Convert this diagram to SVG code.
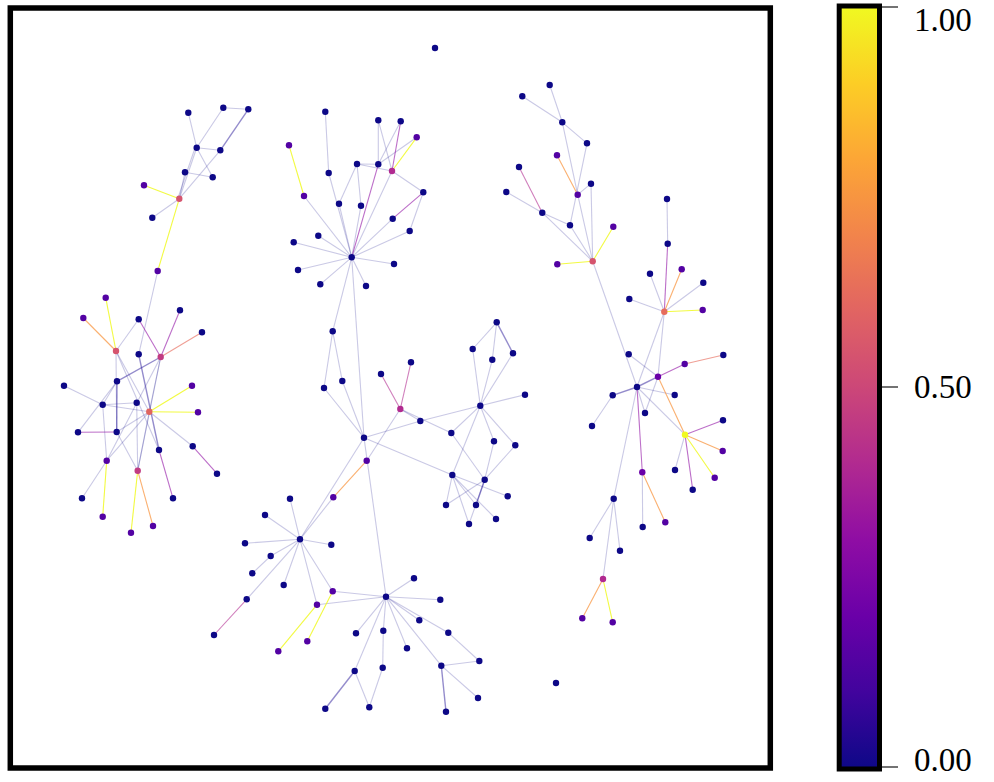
<svg xmlns="http://www.w3.org/2000/svg" width="994" height="782" viewBox="0 0 994 782">
<defs>
<linearGradient id="plasma" x1="0" y1="0" x2="0" y2="1">
<stop offset="0" stop-color="#f0f921"/><stop offset="0.1" stop-color="#fcce25"/><stop offset="0.2" stop-color="#fca636"/><stop offset="0.3" stop-color="#f2844b"/><stop offset="0.4" stop-color="#e16462"/><stop offset="0.5" stop-color="#cc4778"/><stop offset="0.6" stop-color="#b12a90"/><stop offset="0.7" stop-color="#8f0da4"/><stop offset="0.8" stop-color="#6a00a8"/><stop offset="0.9" stop-color="#41049d"/><stop offset="1" stop-color="#0d0887"/>
</linearGradient>
<style>
line{stroke-width:1.1;fill:none}
.l{stroke:#0d0887;stroke-opacity:0.22}
.b{stroke:#2a1a9a;stroke-opacity:0.5;stroke-width:1.4}
.p{stroke:#8f0da4;stroke-opacity:0.6}
.m{stroke:#b12a90;stroke-opacity:0.6}
.s{stroke:#e66c5c;stroke-opacity:0.65}
.o{stroke:#f89540;stroke-opacity:0.75}
.y{stroke:#f0f921;stroke-opacity:0.85}
circle{r:3.2}
.n0{fill:#0d0887}.n1{fill:#5302a3}.np{fill:#6a00a8}.nm{fill:#b12a90}.nm2{fill:#c13b82}.nr{fill:#d5546e}.nr2{fill:#e0645f}.no{fill:#e66c5c}.ny{fill:#f0f921}
.t{font-family:"Liberation Serif","Times New Roman",serif;font-size:33px;fill:#000}
</style>
</defs>
<rect width="994" height="782" fill="#fff"/>
<g id="edges">
<!-- A -->
<line class="l" x1="188.3" y1="112.7" x2="196.7" y2="147.7"/>
<line class="l" x1="223.3" y1="107.7" x2="196.7" y2="147.7"/>
<line class="l" x1="223.3" y1="107.7" x2="248.3" y2="109.3"/>
<line class="b" x1="248.3" y1="109.3" x2="220.3" y2="150.3"/>
<line class="l" x1="196.7" y1="147.7" x2="220.3" y2="150.3"/>
<line class="l" x1="196.7" y1="147.7" x2="212.7" y2="177.3"/>
<line class="l" x1="196.7" y1="147.7" x2="179.3" y2="198.7"/>
<line class="l" x1="195" y1="148" x2="178" y2="198"/>
<line class="l" x1="185" y1="172.3" x2="212.7" y2="177.3"/>
<line class="l" x1="185" y1="172.3" x2="179.3" y2="198.7"/>
<line class="l" x1="220.3" y1="150.3" x2="179.3" y2="198.7"/>
<line class="l" x1="152.3" y1="217.7" x2="179.3" y2="198.7"/>
<line class="y" x1="144" y1="185.3" x2="179.3" y2="198.7"/>
<line class="y" x1="179.3" y1="198.7" x2="157.7" y2="271"/>
<line class="l" x1="157.7" y1="271" x2="138.7" y2="354.3"/>
<!-- B -->
<line class="l" x1="138.7" y1="319.3" x2="116" y2="351"/>
<line class="l" x1="116" y1="351" x2="116.7" y2="432"/>
<line class="l" x1="116" y1="351" x2="149.3" y2="411.7"/>
<line class="l" x1="116" y1="351" x2="159" y2="450"/>
<line class="l" x1="64" y1="385.7" x2="102.7" y2="404.7"/>
<line class="l" x1="102.7" y1="404.7" x2="117" y2="381.3"/>
<line class="l" x1="102.7" y1="404.7" x2="149.3" y2="411.7"/>
<line class="l" x1="102.7" y1="404.7" x2="106.7" y2="460.7"/>
<line class="l" x1="78" y1="432.3" x2="117" y2="381.3"/>
<line class="l" x1="149.3" y1="411.7" x2="192.7" y2="446.3"/>
<line class="l" x1="149.3" y1="411.7" x2="116.7" y2="432"/>
<line class="l" x1="149.3" y1="411.7" x2="106.7" y2="460.7"/>
<line class="l" x1="149.3" y1="411.7" x2="137.7" y2="470.7"/>
<line class="l" x1="149.3" y1="411.7" x2="160.7" y2="357"/>
<line class="l" x1="160.7" y1="357" x2="137.7" y2="470.7"/>
<line class="l" x1="136.7" y1="402.7" x2="137.7" y2="470.7"/>
<line class="l" x1="102.7" y1="404.7" x2="136.7" y2="402.7"/>
<line class="l" x1="116.7" y1="432" x2="137.7" y2="470.7"/>
<line class="l" x1="106.7" y1="460.7" x2="82" y2="498.3"/>
<line class="l" x1="106.7" y1="460.7" x2="160.7" y2="357"/>
<line class="b" x1="160.7" y1="357" x2="117" y2="381.3"/>
<line class="b" x1="117" y1="381.3" x2="116.7" y2="432"/>
<line class="b" x1="138.7" y1="354.3" x2="159" y2="450"/>
<line class="p" x1="138.7" y1="319.3" x2="160.7" y2="357"/>
<line class="p" x1="180" y1="310.3" x2="160.7" y2="357"/>
<line class="p" x1="78" y1="432.3" x2="116.7" y2="432"/>
<line class="p" x1="159" y1="450" x2="173" y2="498.3"/>
<line class="p" x1="192.7" y1="446.3" x2="217" y2="473.7"/>
<line class="s" x1="202" y1="332.3" x2="160.7" y2="357"/>
<line class="y" x1="105.7" y1="297.7" x2="116" y2="351"/>
<line class="o" x1="83.3" y1="318" x2="116" y2="351"/>
<line class="y" x1="192" y1="385.7" x2="149.3" y2="411.7"/>
<line class="y" x1="198" y1="412.3" x2="149.3" y2="411.7"/>
<line class="y" x1="106.7" y1="460.7" x2="102.7" y2="516.7"/>
<line class="y" x1="137.7" y1="470.7" x2="131" y2="532.7"/>
<line class="o" x1="137.7" y1="470.7" x2="153" y2="526"/>
<!-- C -->
<line class="l" x1="325.3" y1="111.7" x2="328.7" y2="173"/>
<line class="l" x1="328.7" y1="173" x2="351.7" y2="257.3"/>
<line class="l" x1="378.3" y1="120.3" x2="378.3" y2="164.3"/>
<line class="l" x1="378.3" y1="120.3" x2="392" y2="171"/>
<line class="l" x1="400.7" y1="121.3" x2="378.3" y2="164.3"/>
<line class="l" x1="416.7" y1="137.3" x2="378.3" y2="164.3"/>
<line class="l" x1="304" y1="196" x2="351.7" y2="257.3"/>
<line class="l" x1="357" y1="164" x2="378.3" y2="164.3"/>
<line class="l" x1="357" y1="164" x2="392" y2="171"/>
<line class="l" x1="357" y1="164" x2="339" y2="203.7"/>
<line class="l" x1="357" y1="164" x2="361" y2="205.7"/>
<line class="l" x1="392" y1="171" x2="351.7" y2="257.3"/>
<line class="l" x1="392" y1="171" x2="423.3" y2="192.3"/>
<line class="l" x1="423.3" y1="192.3" x2="409.7" y2="231"/>
<line class="l" x1="392.7" y1="218.7" x2="351.7" y2="257.3"/>
<line class="l" x1="409.7" y1="231" x2="351.7" y2="257.3"/>
<line class="l" x1="339" y1="203.7" x2="351.7" y2="257.3"/>
<line class="l" x1="361" y1="205.7" x2="351.7" y2="257.3"/>
<line class="l" x1="318.3" y1="235.7" x2="351.7" y2="257.3"/>
<line class="l" x1="293.7" y1="242.3" x2="351.7" y2="257.3"/>
<line class="l" x1="394" y1="264" x2="351.7" y2="257.3"/>
<line class="l" x1="298" y1="270" x2="351.7" y2="257.3"/>
<line class="l" x1="320.3" y1="284.3" x2="351.7" y2="257.3"/>
<line class="l" x1="366" y1="286" x2="351.7" y2="257.3"/>
<line class="p" x1="400.7" y1="121.3" x2="392" y2="171"/>
<line class="p" x1="378.3" y1="164.3" x2="351.7" y2="257.3"/>
<line class="p" x1="423.3" y1="192.3" x2="392.7" y2="218.7"/>
<line class="y" x1="416.7" y1="137.3" x2="392" y2="171"/>
<line class="y" x1="289" y1="145.3" x2="304" y2="196"/>
<!-- D -->
<line class="l" x1="351.7" y1="257.3" x2="332.7" y2="331.3"/>
<line class="l" x1="351.7" y1="257.3" x2="364" y2="437.7"/>
<line class="l" x1="332.7" y1="331.3" x2="324" y2="388"/>
<line class="l" x1="332.7" y1="331.3" x2="342.3" y2="381"/>
<line class="l" x1="324" y1="388" x2="364" y2="437.7"/>
<line class="l" x1="342.3" y1="381" x2="364" y2="437.7"/>
<line class="l" x1="400.3" y1="409" x2="420.3" y2="421"/>
<line class="l" x1="400.3" y1="409" x2="451.3" y2="433"/>
<line class="l" x1="364" y1="437.7" x2="420.3" y2="421"/>
<line class="l" x1="420.3" y1="421" x2="480.3" y2="405.7"/>
<line class="l" x1="364" y1="437.7" x2="300" y2="539.3"/>
<line class="l" x1="400.3" y1="409" x2="366.7" y2="460.7"/>
<line class="l" x1="364" y1="437.7" x2="386" y2="596.7"/>
<line class="l" x1="364" y1="437.7" x2="452.3" y2="475"/>
<line class="l" x1="300" y1="539.3" x2="333.3" y2="497.3"/>
<line class="m" x1="381" y1="374" x2="400.3" y2="409"/>
<line class="m" x1="411" y1="362.3" x2="400.3" y2="409"/>
<line class="o" x1="333.3" y1="497.3" x2="366.7" y2="460.7"/>
<!-- E -->
<line class="l" x1="496.7" y1="322.3" x2="472.7" y2="349"/>
<line class="l" x1="496.7" y1="322.3" x2="492.3" y2="359.7"/>
<line class="l" x1="472.7" y1="349" x2="480.3" y2="405.7"/>
<line class="l" x1="492.3" y1="359.7" x2="480.3" y2="405.7"/>
<line class="l" x1="513" y1="353.3" x2="480.3" y2="405.7"/>
<line class="l" x1="480.3" y1="405.7" x2="525" y2="394.7"/>
<line class="l" x1="480.3" y1="405.7" x2="451.3" y2="433"/>
<line class="l" x1="480.3" y1="405.7" x2="494" y2="441.3"/>
<line class="l" x1="480.3" y1="405.7" x2="515.3" y2="445.3"/>
<line class="l" x1="480.3" y1="405.7" x2="452.3" y2="475"/>
<line class="l" x1="451.3" y1="433" x2="484.7" y2="479.7"/>
<line class="l" x1="494" y1="441.3" x2="484.7" y2="479.7"/>
<line class="l" x1="515.3" y1="445.3" x2="484.7" y2="479.7"/>
<line class="l" x1="452.3" y1="475" x2="446" y2="505"/>
<line class="l" x1="452.3" y1="475" x2="476" y2="505"/>
<line class="l" x1="452.3" y1="475" x2="469" y2="524"/>
<line class="l" x1="452.3" y1="475" x2="496" y2="519"/>
<line class="l" x1="452.3" y1="475" x2="507.7" y2="496.3"/>
<line class="l" x1="484.7" y1="479.7" x2="446" y2="505"/>
<line class="l" x1="484.7" y1="479.7" x2="469" y2="524"/>
<line class="b" x1="496.7" y1="322.3" x2="513" y2="353.3"/>
<line class="b" x1="484.7" y1="479.7" x2="476" y2="505"/>
<!-- F -->
<line class="l" x1="290" y1="498.7" x2="300" y2="539.3"/>
<line class="l" x1="265" y1="515" x2="300" y2="539.3"/>
<line class="l" x1="245" y1="543.3" x2="300" y2="539.3"/>
<line class="l" x1="331.3" y1="544.7" x2="300" y2="539.3"/>
<line class="l" x1="270.7" y1="556" x2="300" y2="539.3"/>
<line class="l" x1="252.3" y1="573.3" x2="270.7" y2="556"/>
<line class="l" x1="283.7" y1="585" x2="300" y2="539.3"/>
<line class="l" x1="246.7" y1="599.3" x2="300" y2="539.3"/>
<line class="l" x1="332.7" y1="591.3" x2="300" y2="539.3"/>
<line class="l" x1="317" y1="604.7" x2="300" y2="539.3"/>
<line class="l" x1="317" y1="604.7" x2="386" y2="596.7"/>
<line class="l" x1="332.7" y1="591.3" x2="386" y2="596.7"/>
<line class="m" x1="246.7" y1="599.3" x2="214" y2="635"/>
<line class="y" x1="317" y1="604.7" x2="278.3" y2="651.3"/>
<line class="y" x1="332.7" y1="591.3" x2="307.3" y2="641.3"/>
<!-- G -->
<line class="l" x1="386" y1="596.7" x2="414" y2="578.3"/>
<line class="l" x1="386" y1="596.7" x2="440.3" y2="599.7"/>
<line class="l" x1="386" y1="596.7" x2="419.3" y2="620.3"/>
<line class="l" x1="386" y1="596.7" x2="448.3" y2="632.7"/>
<line class="l" x1="386" y1="596.7" x2="356" y2="633.3"/>
<line class="l" x1="386" y1="596.7" x2="383.3" y2="630.7"/>
<line class="l" x1="386" y1="596.7" x2="407" y2="648.3"/>
<line class="l" x1="386" y1="596.7" x2="354.7" y2="671"/>
<line class="l" x1="386" y1="596.7" x2="441.3" y2="665.7"/>
<line class="l" x1="383.3" y1="630.7" x2="382.7" y2="667.7"/>
<line class="l" x1="382.7" y1="667.7" x2="369.3" y2="707.3"/>
<line class="l" x1="354.7" y1="671" x2="369.3" y2="707.3"/>
<line class="l" x1="448.3" y1="632.7" x2="479.3" y2="661"/>
<line class="l" x1="441.3" y1="665.7" x2="479.3" y2="661"/>
<line class="l" x1="441.3" y1="665.7" x2="478" y2="698"/>
<line class="b" x1="354.7" y1="671" x2="325.3" y2="708.7"/>
<line class="b" x1="441.3" y1="665.7" x2="446" y2="711.7"/>
<!-- H -->
<line class="l" x1="549.7" y1="85" x2="562.3" y2="122.3"/>
<line class="l" x1="522.3" y1="96.3" x2="562.3" y2="122.3"/>
<line class="l" x1="562.3" y1="122.3" x2="587" y2="143.3"/>
<line class="l" x1="562.3" y1="122.3" x2="577.7" y2="194.7"/>
<line class="l" x1="577.7" y1="194.7" x2="592.7" y2="261.3"/>
<line class="l" x1="587" y1="143.3" x2="570" y2="225.3"/>
<line class="l" x1="591" y1="183.7" x2="577.7" y2="194.7"/>
<line class="l" x1="591" y1="183.7" x2="592.7" y2="261.3"/>
<line class="l" x1="506.3" y1="192" x2="542.3" y2="212.7"/>
<line class="l" x1="542.3" y1="212.7" x2="570" y2="225.3"/>
<line class="l" x1="542.3" y1="212.7" x2="592.7" y2="261.3"/>
<line class="l" x1="570" y1="225.3" x2="592.7" y2="261.3"/>
<line class="l" x1="592.7" y1="261.3" x2="637" y2="387"/>
<line class="m" x1="519" y1="167" x2="542.3" y2="212.7"/>
<line class="o" x1="557" y1="155.3" x2="577.7" y2="194.7"/>
<line class="y" x1="613.3" y1="226.7" x2="592.7" y2="261.3"/>
<line class="y" x1="557.3" y1="264.3" x2="592.7" y2="261.3"/>
<!-- I -->
<line class="l" x1="667" y1="199" x2="667.7" y2="243.7"/>
<line class="l" x1="629.3" y1="299" x2="664.3" y2="311.7"/>
<line class="l" x1="703.3" y1="282.7" x2="664.3" y2="311.7"/>
<line class="l" x1="650" y1="273.7" x2="664.3" y2="311.7"/>
<line class="l" x1="664.3" y1="311.7" x2="637" y2="387"/>
<line class="l" x1="664.3" y1="311.7" x2="658" y2="376.7"/>
<line class="l" x1="628.7" y1="354.3" x2="658" y2="376.7"/>
<line class="l" x1="637" y1="387" x2="674.7" y2="395"/>
<line class="l" x1="637" y1="387" x2="645" y2="413"/>
<line class="l" x1="637" y1="387" x2="685" y2="434.7"/>
<line class="l" x1="658" y1="376.7" x2="645" y2="413"/>
<line class="l" x1="637" y1="387" x2="613.7" y2="498.7"/>
<line class="l" x1="685" y1="434.7" x2="675" y2="470"/>
<line class="l" x1="642.3" y1="472.3" x2="642.7" y2="527"/>
<line class="l" x1="613.7" y1="498.7" x2="589.7" y2="538"/>
<line class="l" x1="613.7" y1="498.7" x2="620" y2="550.7"/>
<line class="l" x1="613.7" y1="498.7" x2="603" y2="579"/>
<line class="l" x1="612.7" y1="395.3" x2="592" y2="426"/>
<line class="p" x1="667.7" y1="243.7" x2="664.3" y2="311.7"/>
<line class="p" x1="658" y1="376.7" x2="684.7" y2="364"/>
<line class="b" x1="637" y1="387" x2="658" y2="376.7"/>
<line class="b" x1="637" y1="387" x2="612.7" y2="395.3"/>
<line class="p" x1="637" y1="387" x2="642.3" y2="472.3"/>
<line class="p" x1="685" y1="434.7" x2="723" y2="420.3"/>
<line class="p" x1="685" y1="434.7" x2="692.7" y2="489.7"/>
<line class="s" x1="684.7" y1="364" x2="723.3" y2="355"/>
<line class="y" x1="702.7" y1="310" x2="664.3" y2="311.7"/>
<line class="o" x1="681.7" y1="269.3" x2="664.3" y2="311.7"/>
<line class="o" x1="658" y1="376.7" x2="685" y2="434.7"/>
<line class="o" x1="685" y1="434.7" x2="722.7" y2="451"/>
<line class="y" x1="685" y1="434.7" x2="714.7" y2="477.7"/>
<line class="o" x1="642.3" y1="472.3" x2="665.3" y2="522.3"/>
<line class="o" x1="603" y1="579" x2="582.3" y2="618.3"/>
<line class="y" x1="603" y1="579" x2="612.7" y2="622.3"/>
</g>
<g id="a1"><circle class="n0" cx="188.3" cy="112.7"/></g>
<g id="a2"><circle class="n0" cx="223.3" cy="107.7"/></g>
<g id="a3"><circle class="n0" cx="248.3" cy="109.3"/></g>
<g id="a4"><circle class="n0" cx="196.7" cy="147.7"/></g>
<g id="a5"><circle class="n0" cx="220.3" cy="150.3"/></g>
<g id="a6"><circle class="n0" cx="185" cy="172.3"/></g>
<g id="a7"><circle class="n0" cx="212.7" cy="177.3"/></g>
<g id="a8"><circle class="n1" cx="144" cy="185.3"/></g>
<g id="a9"><circle class="nr" cx="179.3" cy="198.7"/></g>
<g id="a10"><circle class="n0" cx="152.3" cy="217.7"/></g>
<g id="a11"><circle class="n1" cx="157.7" cy="271"/></g>
<g id="b1"><circle class="n1" cx="105.7" cy="297.7"/></g>
<g id="b2"><circle class="n1" cx="83.3" cy="318"/></g>
<g id="b3"><circle class="n0" cx="138.7" cy="319.3"/></g>
<g id="b4"><circle class="n0" cx="180" cy="310.3"/></g>
<g id="b5"><circle class="n0" cx="202" cy="332.3"/></g>
<g id="b6"><circle class="nr" cx="116" cy="351"/></g>
<g id="b7"><circle class="n0" cx="138.7" cy="354.3"/></g>
<g id="b8"><circle class="nm2" cx="160.7" cy="357"/></g>
<g id="b9"><circle class="n0" cx="117" cy="381.3"/></g>
<g id="b10"><circle class="n0" cx="64" cy="385.7"/></g>
<g id="b11"><circle class="n1" cx="192" cy="385.7"/></g>
<g id="b12"><circle class="n0" cx="102.7" cy="404.7"/></g>
<g id="b13"><circle class="n0" cx="136.7" cy="402.7"/></g>
<g id="b14"><circle class="nr2" cx="149.3" cy="411.7"/></g>
<g id="b15"><circle class="n1" cx="198" cy="412.3"/></g>
<g id="b16"><circle class="n0" cx="78" cy="432.3"/></g>
<g id="b17"><circle class="n0" cx="116.7" cy="432"/></g>
<g id="b18"><circle class="n0" cx="192.7" cy="446.3"/></g>
<g id="b19"><circle class="n0" cx="159" cy="450"/></g>
<g id="b20"><circle class="n1" cx="106.7" cy="460.7"/></g>
<g id="b21"><circle class="nm2" cx="137.7" cy="470.7"/></g>
<g id="b22"><circle class="n0" cx="217" cy="473.7"/></g>
<g id="b23"><circle class="n0" cx="82" cy="498.3"/></g>
<g id="b24"><circle class="n0" cx="173" cy="498.3"/></g>
<g id="b25"><circle class="n1" cx="102.7" cy="516.7"/></g>
<g id="b26"><circle class="n1" cx="153" cy="526"/></g>
<g id="b27"><circle class="n1" cx="131" cy="532.7"/></g>
<g id="c1"><circle class="n0" cx="325.3" cy="111.7"/></g>
<g id="c2"><circle class="n0" cx="378.3" cy="120.3"/></g>
<g id="c3"><circle class="n0" cx="400.7" cy="121.3"/></g>
<g id="c4"><circle class="n1" cx="416.7" cy="137.3"/></g>
<g id="c5"><circle class="n1" cx="289" cy="145.3"/></g>
<g id="c6"><circle class="n0" cx="357" cy="164"/></g>
<g id="c7"><circle class="n0" cx="378.3" cy="164.3"/></g>
<g id="c8"><circle class="nm" cx="392" cy="171"/></g>
<g id="c9"><circle class="n0" cx="328.7" cy="173"/></g>
<g id="c10"><circle class="n1" cx="304" cy="196"/></g>
<g id="c11"><circle class="n0" cx="423.3" cy="192.3"/></g>
<g id="c12"><circle class="n0" cx="339" cy="203.7"/></g>
<g id="c13"><circle class="n0" cx="361" cy="205.7"/></g>
<g id="c14"><circle class="n0" cx="392.7" cy="218.7"/></g>
<g id="c15"><circle class="n0" cx="409.7" cy="231"/></g>
<g id="c16"><circle class="n0" cx="318.3" cy="235.7"/></g>
<g id="c17"><circle class="n0" cx="293.7" cy="242.3"/></g>
<g id="c18"><circle class="n0" cx="351.7" cy="257.3"/></g>
<g id="c19"><circle class="n0" cx="394" cy="264"/></g>
<g id="c20"><circle class="n0" cx="298" cy="270"/></g>
<g id="c21"><circle class="n0" cx="320.3" cy="284.3"/></g>
<g id="c22"><circle class="n0" cx="366" cy="286"/></g>
<g id="d1"><circle class="n0" cx="332.7" cy="331.3"/></g>
<g id="d2"><circle class="n0" cx="411" cy="362.3"/></g>
<g id="d3"><circle class="n0" cx="381" cy="374"/></g>
<g id="d4"><circle class="n0" cx="342.3" cy="381"/></g>
<g id="d5"><circle class="n0" cx="324" cy="388"/></g>
<g id="d6"><circle class="nm" cx="400.3" cy="409"/></g>
<g id="d7"><circle class="n0" cx="420.3" cy="421"/></g>
<g id="d8"><circle class="n0" cx="364" cy="437.7"/></g>
<g id="d9"><circle class="n1" cx="366.7" cy="460.7"/></g>
<g id="d10"><circle class="n1" cx="333.3" cy="497.3"/></g>
<g id="e1"><circle class="n0" cx="496.7" cy="322.3"/></g>
<g id="e2"><circle class="n0" cx="472.7" cy="349"/></g>
<g id="e3"><circle class="n0" cx="492.3" cy="359.7"/></g>
<g id="e4"><circle class="n0" cx="513" cy="353.3"/></g>
<g id="e5"><circle class="n0" cx="525" cy="394.7"/></g>
<g id="e6"><circle class="n0" cx="480.3" cy="405.7"/></g>
<g id="e7"><circle class="n0" cx="451.3" cy="433"/></g>
<g id="e8"><circle class="n0" cx="494" cy="441.3"/></g>
<g id="e9"><circle class="n0" cx="515.3" cy="445.3"/></g>
<g id="e10"><circle class="n0" cx="452.3" cy="475"/></g>
<g id="e11"><circle class="n0" cx="484.7" cy="479.7"/></g>
<g id="e12"><circle class="n0" cx="507.7" cy="496.3"/></g>
<g id="e13"><circle class="n0" cx="446" cy="505"/></g>
<g id="e14"><circle class="n0" cx="476" cy="505"/></g>
<g id="e15"><circle class="n0" cx="496" cy="519"/></g>
<g id="e16"><circle class="n0" cx="469" cy="524"/></g>
<g id="f1"><circle class="n0" cx="290" cy="498.7"/></g>
<g id="f2"><circle class="n0" cx="265" cy="515"/></g>
<g id="f3"><circle class="n0" cx="245" cy="543.3"/></g>
<g id="f4"><circle class="n0" cx="300" cy="539.3"/></g>
<g id="f5"><circle class="n0" cx="331.3" cy="544.7"/></g>
<g id="f6"><circle class="n0" cx="270.7" cy="556"/></g>
<g id="f7"><circle class="n0" cx="252.3" cy="573.3"/></g>
<g id="f8"><circle class="n0" cx="283.7" cy="585"/></g>
<g id="f9"><circle class="n1" cx="332.7" cy="591.3"/></g>
<g id="f10"><circle class="n1" cx="317" cy="604.7"/></g>
<g id="f11"><circle class="n0" cx="246.7" cy="599.3"/></g>
<g id="f12"><circle class="n0" cx="214" cy="635"/></g>
<g id="f13"><circle class="n1" cx="278.3" cy="651.3"/></g>
<g id="f14"><circle class="n1" cx="307.3" cy="641.3"/></g>
<g id="g1"><circle class="n0" cx="386" cy="596.7"/></g>
<g id="g2"><circle class="n0" cx="414" cy="578.3"/></g>
<g id="g3"><circle class="n0" cx="440.3" cy="599.7"/></g>
<g id="g4"><circle class="n0" cx="419.3" cy="620.3"/></g>
<g id="g5"><circle class="n0" cx="448.3" cy="632.7"/></g>
<g id="g6"><circle class="n0" cx="356" cy="633.3"/></g>
<g id="g7"><circle class="n0" cx="383.3" cy="630.7"/></g>
<g id="g8"><circle class="n0" cx="407" cy="648.3"/></g>
<g id="g9"><circle class="n0" cx="354.7" cy="671"/></g>
<g id="g10"><circle class="n0" cx="382.7" cy="667.7"/></g>
<g id="g11"><circle class="n0" cx="441.3" cy="665.7"/></g>
<g id="g12"><circle class="n0" cx="479.3" cy="661"/></g>
<g id="g13"><circle class="n0" cx="478" cy="698"/></g>
<g id="g14"><circle class="n0" cx="325.3" cy="708.7"/></g>
<g id="g15"><circle class="n0" cx="369.3" cy="707.3"/></g>
<g id="g16"><circle class="n0" cx="446" cy="711.7"/></g>
<g id="h1"><circle class="n0" cx="549.7" cy="85"/></g>
<g id="h2"><circle class="n0" cx="522.3" cy="96.3"/></g>
<g id="h3"><circle class="n0" cx="562.3" cy="122.3"/></g>
<g id="h4"><circle class="n0" cx="587" cy="143.3"/></g>
<g id="h5"><circle class="n1" cx="557" cy="155.3"/></g>
<g id="h6"><circle class="n0" cx="519" cy="167"/></g>
<g id="h7"><circle class="n0" cx="591" cy="183.7"/></g>
<g id="h8"><circle class="n1" cx="577.7" cy="194.7"/></g>
<g id="h9"><circle class="n0" cx="506.3" cy="192"/></g>
<g id="h10"><circle class="n0" cx="542.3" cy="212.7"/></g>
<g id="h11"><circle class="n0" cx="570" cy="225.3"/></g>
<g id="h12"><circle class="n1" cx="613.3" cy="226.7"/></g>
<g id="h13"><circle class="nr" cx="592.7" cy="261.3"/></g>
<g id="h14"><circle class="n1" cx="557.3" cy="264.3"/></g>
<g id="i1"><circle class="n0" cx="667" cy="199"/></g>
<g id="i2"><circle class="n0" cx="667.7" cy="243.7"/></g>
<g id="i3"><circle class="n0" cx="650" cy="273.7"/></g>
<g id="i4"><circle class="n1" cx="681.7" cy="269.3"/></g>
<g id="i5"><circle class="n0" cx="703.3" cy="282.7"/></g>
<g id="i6"><circle class="n0" cx="629.3" cy="299"/></g>
<g id="i7"><circle class="no" cx="664.3" cy="311.7"/></g>
<g id="i8"><circle class="n1" cx="702.7" cy="310"/></g>
<g id="i9"><circle class="n0" cx="628.7" cy="354.3"/></g>
<g id="i10"><circle class="n0" cx="723.3" cy="355"/></g>
<g id="i11"><circle class="n1" cx="684.7" cy="364"/></g>
<g id="i12"><circle class="np" cx="658" cy="376.7"/></g>
<g id="i13"><circle class="n0" cx="637" cy="387"/></g>
<g id="i14"><circle class="n0" cx="612.7" cy="395.3"/></g>
<g id="i15"><circle class="n0" cx="674.7" cy="395"/></g>
<g id="i16"><circle class="n0" cx="645" cy="413"/></g>
<g id="i17"><circle class="n0" cx="592" cy="426"/></g>
<g id="i18"><circle class="n0" cx="723" cy="420.3"/></g>
<g id="i19"><circle class="ny" cx="685" cy="434.7"/></g>
<g id="i20"><circle class="n1" cx="722.7" cy="451"/></g>
<g id="i21"><circle class="n0" cx="675" cy="470"/></g>
<g id="i22"><circle class="np" cx="642.3" cy="472.3"/></g>
<g id="i23"><circle class="n1" cx="714.7" cy="477.7"/></g>
<g id="i24"><circle class="n0" cx="692.7" cy="489.7"/></g>
<g id="i25"><circle class="n0" cx="613.7" cy="498.7"/></g>
<g id="i26"><circle class="n0" cx="642.7" cy="527"/></g>
<g id="i27"><circle class="n1" cx="665.3" cy="522.3"/></g>
<g id="i28"><circle class="n0" cx="589.7" cy="538"/></g>
<g id="i29"><circle class="n0" cx="620" cy="550.7"/></g>
<g id="i30"><circle class="nm" cx="603" cy="579"/></g>
<g id="i31"><circle class="n1" cx="582.3" cy="618.3"/></g>
<g id="i32"><circle class="n1" cx="612.7" cy="622.3"/></g>
<g id="z1"><circle class="n0" cx="435" cy="48"/></g>
<g id="z2"><circle class="n0" cx="556" cy="683"/></g>
<g id="frame"><rect x="10.3" y="8" width="760" height="760" fill="none" stroke="#000" stroke-width="5.5"/></g>
<g id="colorbar">
<rect x="839.2" y="6" width="40.3" height="763" fill="url(#plasma)" stroke="#000" stroke-width="5"/>
<line x1="880" y1="7" x2="898" y2="7" stroke="#000" stroke-width="4"/>
<line x1="880" y1="387" x2="898" y2="387" stroke="#000" stroke-width="4"/>
<line x1="880" y1="767" x2="898" y2="767" stroke="#000" stroke-width="4"/>
<text class="t" x="914" y="31">1.00</text>
<text class="t" x="914" y="398">0.50</text>
<text class="t" x="914" y="771">0.00</text>
</g>
</svg>
